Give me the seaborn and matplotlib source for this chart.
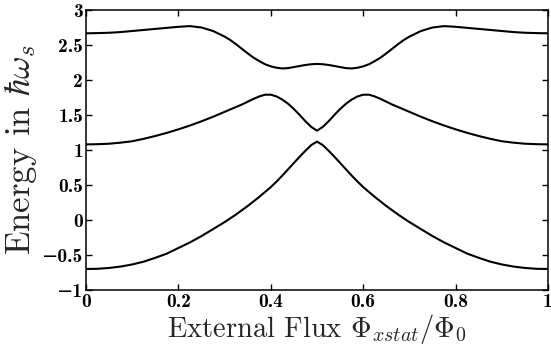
import matplotlib
matplotlib.use("Agg")
import matplotlib.pyplot as plt
import seaborn as sns
import pandas as pd

# ---------- DATA ----------
flux = [0, 0.025, 0.05, 0.075, 0.1, 0.125, 0.15, 0.175, 0.2, 0.225, 0.25, 0.275,
        0.3, 0.3125, 0.325, 0.3375, 0.35, 0.3625, 0.375, 0.3875, 0.4, 0.4125, 0.425,
        0.4375, 0.45, 0.4625, 0.475, 0.4875, 0.5,
        0.5125, 0.525, 0.5375, 0.55, 0.5625, 0.575, 0.5875, 0.6, 0.6125, 0.625,
        0.6375, 0.65, 0.6625, 0.675, 0.6875, 0.7, 0.725, 0.75, 0.775, 0.8, 0.825,
        0.85, 0.875, 0.9, 0.925, 0.95, 0.975, 1.0]

level_0 = [-0.70, -0.697, -0.685, -0.665, -0.635, -0.595, -0.54, -0.48, -0.40, -0.32,
           -0.23, -0.13, -0.03, 0.025, 0.08, 0.14, 0.20, 0.265, 0.33, 0.40, 0.47,
           0.55, 0.635, 0.725, 0.815, 0.905, 0.99, 1.07, 1.12,
           1.07, 0.99, 0.905, 0.815, 0.725, 0.635, 0.55, 0.47, 0.40, 0.33, 0.265,
           0.20, 0.14, 0.08, 0.025, -0.03, -0.13, -0.23, -0.32, -0.40, -0.48, -0.54,
           -0.595, -0.635, -0.665, -0.685, -0.697, -0.70]

level_1 = [1.08, 1.083, 1.09, 1.105, 1.125, 1.16, 1.20, 1.245, 1.295, 1.35, 1.41, 1.475,
           1.545, 1.58, 1.615, 1.65, 1.69, 1.73, 1.765, 1.79, 1.79, 1.765, 1.72, 1.66,
           1.585, 1.50, 1.41, 1.33, 1.276,
           1.33, 1.41, 1.50, 1.585, 1.66, 1.72, 1.765, 1.79, 1.79, 1.765, 1.73, 1.69,
           1.65, 1.615, 1.58, 1.545, 1.475, 1.41, 1.35, 1.295, 1.245, 1.20, 1.16,
           1.125, 1.105, 1.09, 1.083, 1.08]

level_2 = [2.667, 2.67, 2.675, 2.685, 2.70, 2.715, 2.73, 2.745, 2.76, 2.77, 2.75, 2.70,
           2.62, 2.57, 2.51, 2.445, 2.38, 2.32, 2.27, 2.225, 2.195, 2.175, 2.165, 2.17,
           2.185, 2.20, 2.215, 2.225, 2.23,
           2.225, 2.215, 2.20, 2.185, 2.17, 2.165, 2.175, 2.195, 2.225, 2.27, 2.32,
           2.38, 2.445, 2.51, 2.57, 2.62, 2.70, 2.75, 2.77, 2.76, 2.745, 2.73, 2.715,
           2.70, 2.685, 2.675, 2.67, 2.667]

x_ticks = [0, 0.2, 0.4, 0.6, 0.8, 1]
x_tick_labels = ["0", "0.2", "0.4", "0.6", "0.8", "1"]
y_ticks = [-1, -0.5, 0, 0.5, 1, 1.5, 2, 2.5, 3]
y_tick_labels = ["\u22121", "\u22120.5", "0", "0.5", "1", "1.5", "2", "2.5", "3"]

# ---------- STYLE ----------
sns.set_style("ticks")
plt.rcParams["font.family"] = ["cmr10", "DejaVu Serif"]
plt.rcParams["mathtext.fontset"] = "cm"
plt.rcParams["axes.unicode_minus"] = True
plt.rcParams["axes.formatter.use_mathtext"] = True

fig = plt.figure(figsize=(5.51, 3.56), dpi=100)
ax = fig.add_axes([0.1561, 0.1854, 0.8385, 0.7865])

df = pd.DataFrame({"flux": flux, "E0": level_0, "E1": level_1, "E2": level_2})
for col in ["E0", "E1", "E2"]:
    sns.lineplot(data=df, x="flux", y=col, ax=ax, color="black", linewidth=1.5)

ax.set_xlim(0, 1)
ax.set_ylim(-1, 3)

tick_font = {"family": ["cmb10", "DejaVu Sans"], "size": 14}
ax.set_xticks(x_ticks)
ax.set_xticklabels(x_tick_labels, fontdict=tick_font)
ax.set_yticks(y_ticks)
ax.set_yticklabels(y_tick_labels, fontdict=tick_font)
ax.tick_params(direction="in", length=4.5, width=1.0, top=True, right=True,
               labeltop=False, labelright=False, pad=2, colors="black")
for s in ax.spines.values():
    s.set_linewidth(1.1)
    s.set_color("black")

ax.set_xlabel(r"External Flux $\Phi_{xstat}/\Phi_0$", fontsize=20.5, labelpad=1)
ax.set_ylabel(r"Energy in $\hbar\omega_s$", fontsize=25, labelpad=2)

fig.savefig("out.png", dpi=100)
